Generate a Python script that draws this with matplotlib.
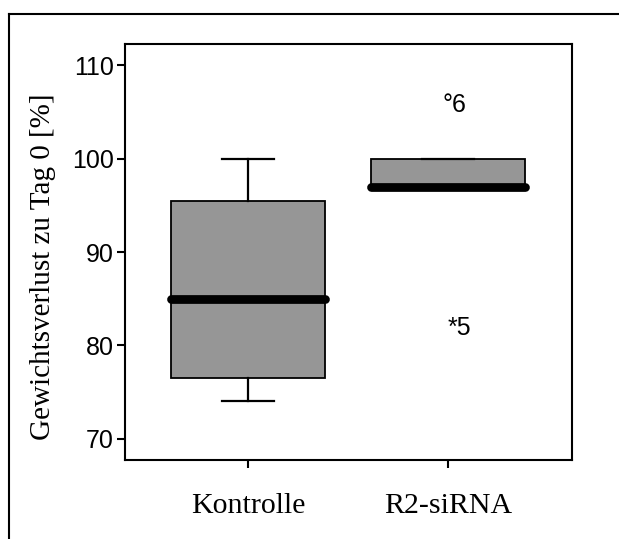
import matplotlib
matplotlib.use("Agg")
import matplotlib.pyplot as plt
from matplotlib.lines import Line2D

categories = ["Kontrolle", "R2-siRNA"]
whisker_low = [74, 97]
q1 = [76.5, 97]
median = [85, 97]
q3 = [95.5, 100]
whisker_high = [100, 100]
outlier_values = [105.8, 81.9]
outlier_group = [1, 1]
outlier_text = ["°6", "*5"]
outlier_offset = [-0.025, 0.0]
yticks = [70, 80, 90, 100, 110]

fig = plt.figure(figsize=(6.19, 5.39), dpi=100)
# outer frame
fig.add_artist(Line2D([9/619, 1.0], [1-14/539, 1-14/539], color="black", lw=1.5, transform=fig.transFigure))
fig.add_artist(Line2D([9/619, 9/619], [1-14/539, 0.0], color="black", lw=1.5, transform=fig.transFigure))

ax = fig.add_axes([125/619, 1-460/539, (572-125)/619, (460-44)/539])
stats = []
for i in range(len(categories)):
    stats.append(dict(med=median[i], q1=q1[i], q3=q3[i], whislo=whisker_low[i],
                      whishi=whisker_high[i], fliers=[], label=categories[i]))
bp = ax.bxp(stats, positions=range(len(categories)), widths=0.77, patch_artist=True,
            showfliers=False,
            boxprops=dict(facecolor="#969696", edgecolor="black", linewidth=1.3),
            whiskerprops=dict(color="black", linewidth=1.6),
            capprops=dict(color="black", linewidth=1.6),
            medianprops=dict(color="black", linewidth=6.3, solid_capstyle="round"),
            capwidths=0.26)
for i, v in enumerate(outlier_values):
    g = outlier_group[i]
    ax.text(g + outlier_offset[i], v, outlier_text[i], ha="left", va="center",
            fontsize=18, family="Liberation Sans")

ax.set_xlim(-0.615, 1.62)
ax.set_ylim(67.7, 112.3)
ax.set_yticks(yticks)
ax.set_yticklabels([str(t) for t in yticks], family="Liberation Sans", fontsize=18)
ax.set_xticks(range(len(categories)))
ax.set_xticklabels(categories, family="Liberation Serif", fontsize=21.5)
ax.tick_params(axis="both", length=6, width=1.5, color="black")
ax.tick_params(axis="x", pad=18)
ax.tick_params(axis="y", pad=2)
for s in ax.spines.values():
    s.set_linewidth(1.5)
ax.set_ylabel("Gewichtsverlust zu Tag 0 [%]", family="Liberation Serif", fontsize=21)
ax.yaxis.set_label_coords(-0.155, 0.464)
fig.savefig("out.png", dpi=100)
